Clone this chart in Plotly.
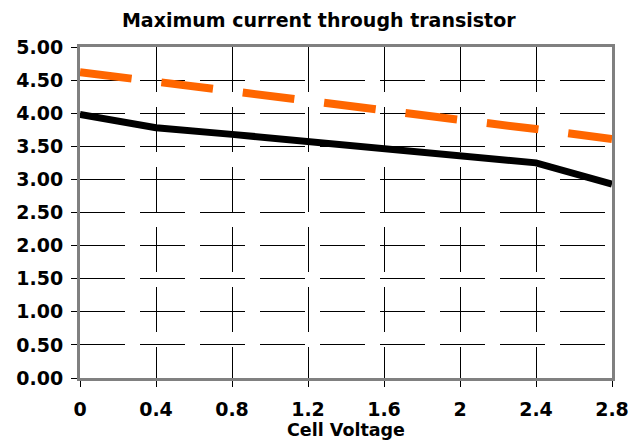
import plotly.graph_objects as go

# Cell voltage (V) and maximum transistor current (A)
cell_voltage = [0, 0.4, 0.8, 1.2, 1.6, 2.0, 2.4, 2.8]
current_black = [3.98, 3.78, 3.68, 3.57, 3.48, 3.37, 3.25, 2.93]
current_orange = [4.62, 4.48, 4.35, 4.20, 4.06, 3.90, 3.76, 3.61]

x_ticks = [0, 0.4, 0.8, 1.2, 1.6, 2.0, 2.4, 2.8]
x_tick_text = ["0", "0.4", "0.8", "1.2", "1.6", "2", "2.4", "2.8"]
y_ticks = [0, 0.5, 1.0, 1.5, 2.0, 2.5, 3.0, 3.5, 4.0, 4.5, 5.0]
y_tick_text = [f"{v:.2f}" for v in y_ticks]

FONT = "DejaVu Sans"

fig = go.Figure()
fig.add_trace(go.Scatter(
    x=cell_voltage, y=current_orange, mode="lines",
    line=dict(color="#FF6600", width=8, dash="52px,30px"),
    showlegend=False,
))
fig.add_trace(go.Scatter(
    x=cell_voltage, y=current_black, mode="lines",
    line=dict(color="#000000", width=7),
    showlegend=False,
))

axis_common = dict(
    showgrid=True, gridcolor="#000000", gridwidth=1, griddash="45px,15px",
    showline=True, linecolor="#808080", linewidth=3, mirror=True,
    ticks="outside", ticklen=6, tickcolor="#000000", tickwidth=1,
    zeroline=False, automargin=False,
    tickfont=dict(family=FONT, size=19, color="#000000", weight="bold"),
)

fig.update_xaxes(
    range=[0, 2.8], tickvals=x_ticks, ticktext=x_tick_text,
    ticklabelstandoff=6,
    title=dict(text="Cell Voltage", standoff=2,
               font=dict(family=FONT, size=17.5, color="#000000", weight="bold")),
    **axis_common,
)
fig.update_yaxes(
    range=[0, 5], tickvals=y_ticks, ticktext=y_tick_text,
    ticklabelstandoff=4,
    **axis_common,
)

fig.update_layout(
    width=644, height=443,
    margin=dict(l=80, r=32, t=47, b=65),
    plot_bgcolor="#FFFFFF", paper_bgcolor="#FFFFFF",
    title=dict(text="Maximum current through transistor", x=0.495, xanchor="center",
               y=0.955, yanchor="middle",
               font=dict(family=FONT, size=19, color="#000000", weight="bold")),
)

fig.write_html("out.html")
